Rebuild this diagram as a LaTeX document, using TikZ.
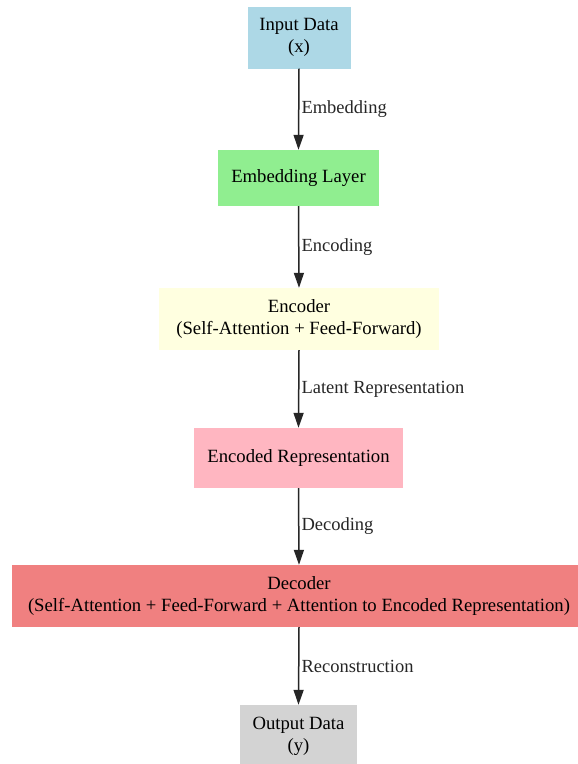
\documentclass[tikz,border=0pt]{standalone}
\usepackage{fontspec}
\setmainfont{Liberation Serif}
\usetikzlibrary{arrows.meta}
\definecolor{cIn}{HTML}{ADD8E6}
\definecolor{cEmb}{HTML}{90EE90}
\definecolor{cEnc}{HTML}{FFFFE0}
\definecolor{cRep}{HTML}{FFB6C1}
\definecolor{cDec}{HTML}{F08080}
\definecolor{cOut}{HTML}{D3D3D3}
\tikzset{
  box/.style={rectangle, draw=none, inner sep=0pt, align=center,
    font=\fontsize{18.7}{22}\selectfont, text=black},
  conn/.style={-{Triangle[width=10pt,length=15pt]}, line width=1.5pt, black!85},
  elabel/.style={font=\fontsize{18.5}{22}\selectfont, text=black!85, anchor=west, inner sep=0pt}
}
\begin{document}
\begin{tikzpicture}[x=1pt,y=-1pt]
\useasboundingbox (0,0) rectangle (578,764);
\fill[white] (0,0) rectangle (578,764);
\node[box, fill=cIn, minimum width=103pt, minimum height=62pt] (in) at (299,37.5) {Input Data\\(x)};
\node[box, fill=cEmb, minimum width=161pt, minimum height=56pt] (emb) at (298.5,178) {Embedding Layer};
\node[box, fill=cEnc, minimum width=280pt, minimum height=62pt] (enc) at (299,319) {Encoder\\(Self-Attention + Feed-Forward)};
\node[box, fill=cRep, minimum width=209pt, minimum height=60pt] (rep) at (298.5,458) {Encoded Representation};
\node[box, fill=cDec, minimum width=574pt, minimum height=62pt] (dec) at (299,596) {Decoder\\(Self-Attention + Feed-Forward + Attention to Encoded Representation)};
\node[box, fill=cOut, minimum width=117pt, minimum height=62pt] (out) at (298.5,736) {Output Data\\(y)};
\draw[conn] (in.south) -- node[elabel, xshift=2pt] {Embedding} (emb.north);
\draw[conn] (emb.south) -- node[elabel, xshift=2pt] {Encoding} (enc.north);
\draw[conn] (enc.south) -- node[elabel, xshift=2pt] {Latent Representation} (rep.north);
\draw[conn] (rep.south) -- node[elabel, xshift=2pt] {Decoding} (dec.north);
\draw[conn] (dec.south) -- node[elabel, xshift=2pt] {Reconstruction} (out.north);
\end{tikzpicture}
\end{document}
